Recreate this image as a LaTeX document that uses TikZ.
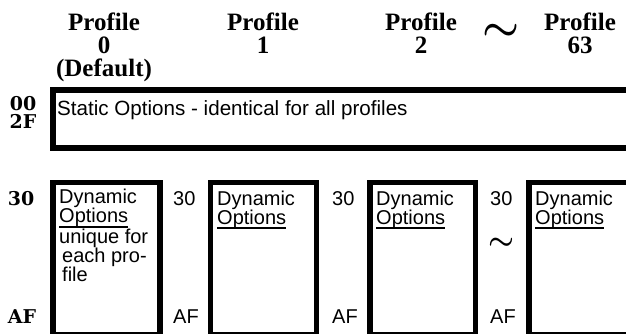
\documentclass[tikz,border=0pt]{standalone}
\usepackage{fontspec}
\setmainfont{Liberation Sans}
\newfontfamily\headfont{Liberation Serif}
\newfontfamily\addrfont{DejaVu Serif}
\newcommand{\optline}[1]{\setbox0\hbox{#1}\rlap{\rule[-5pt]{\wd0}{1.8pt}}\box0}

\begin{document}
\begin{tikzpicture}[x=1pt, y=-1pt,
		box/.style={draw, line width=5.5pt, inner sep=0pt, outer sep=0pt, anchor=north west},
		head/.style={font=\headfont\bfseries\fontsize{25}{23}\selectfont, align=center, anchor=base, inner sep=0pt},
		addr/.style={font=\addrfont\bfseries\fontsize{19}{19}\selectfont, anchor=base, inner sep=0pt},
		txt/.style={font=\fontsize{20}{19.2}\selectfont, align=left, anchor=base west, inner sep=0pt}
	]
	\clip (0,0) rectangle (626,333);
	\node[head] (Profile0) at (104,76.5) {Profile\\0\\(Default)};
	\node[head] (Profile1) at (263,53.5) {Profile\\1};
	\node[head] (Profile2) at (421,53.5) {Profile\\2};
	\node[head] (Profile63) at (580,53.5) {Profile\\63};
	\node[inner sep=0pt, font=\fontsize{20}{20}\selectfont\boldmath] (SkipHead) at (501,32) {\scalebox{2}{$\sim$}};
	\node[addr] (Addr00) at (23,110) {00};
	\node[addr] (Addr2F) at (23,128) {2F};
	\node[addr] (Addr30) at (21,205) {30};
	\node[addr] (AddrAF) at (22,323) {AF};
	\node[box, minimum width=592, minimum height=58] (Static) at (53,90) {};
	\node[txt] (StaticText) at (57,115) {\fontsize{20.6}{19.2}\selectfont Static Options - identical for all profiles};
	\node[box, minimum width=107, minimum height=152] (Dynamic0) at (53,182.5) {};
	\node[box, minimum width=106, minimum height=152] (Dynamic1) at (210.5,182.5) {};
	\node[box, minimum width=105.5, minimum height=152] (Dynamic2) at (370,182.5) {};
	\node[box, minimum width=107, minimum height=152] (Dynamic63) at (529,182.5) {};
	\node[txt] (Text0) at (59,281.8) {Dynamic\\\optline{Options}\\unique for\\\hspace{3pt}each pro-\\\hspace{3pt}file};
	\node[txt] (Text1) at (217,224.2) {Dynamic\\\optline{Options}};
	\node[txt] (Text2) at (376,224.2) {Dynamic\\\optline{Options}};
	\node[txt] (Text63) at (535,224.2) {Dynamic\\\optline{Options}};
	\node[txt] (Start1) at (173,205) {30};
	\node[txt] (End1) at (173,323) {AF};
	\node[txt] (Start2) at (332,205) {30};
	\node[txt] (End2) at (332,323) {AF};
	\node[txt] (Start63) at (490,205) {30};
	\node[txt] (End63) at (490,323) {AF};
	\node[inner sep=0pt, font=\fontsize{20}{20}\selectfont\boldmath] (SkipBody) at (501,244) {\scalebox{1.4}{$\sim$}};
\end{tikzpicture}
\end{document}
